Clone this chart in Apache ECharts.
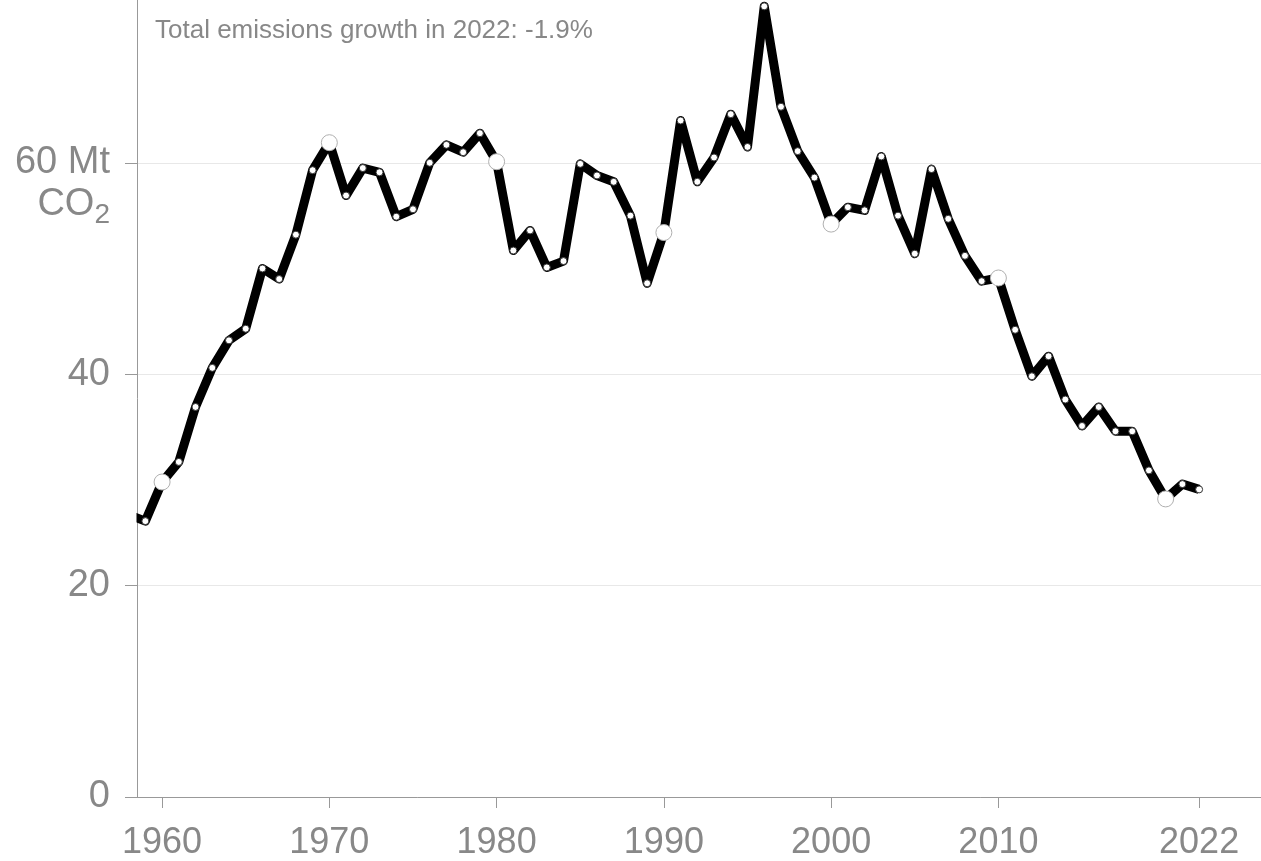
<!DOCTYPE html>
<html>
<head>
<meta charset="utf-8">
<script src="https://cdn.jsdelivr.net/npm/echarts@6/dist/echarts.min.js"></script>
<style>
html,body{margin:0;padding:0;background:#fff;}
#c{width:1261px;height:861px;}
</style>
</head>
<body>
<div id="c"></div>
<script>
const years = [1958,1959,1960,1961,1962,1963,1964,1965,1966,1967,1968,1969,
  1970,1971,1972,1973,1974,1975,1976,1977,1978,1979,
  1980,1981,1982,1983,1984,1985,1986,1987,1988,1989,
  1990,1991,1992,1993,1994,1995,1996,1997,1998,1999,
  2000,2001,2002,2003,2004,2005,2006,2007,2008,2009,
  2010,2011,2012,2013,2014,2015,2016,2017,2018,2019,
  2020,2021,2022];
const emissions = [26.7,26.1,29.8,31.7,36.9,40.6,43.2,44.3,50.0,49.0,53.2,59.3,
  61.9,56.9,59.5,59.1,54.9,55.6,60.0,61.7,61.0,62.8,
  60.1,51.7,53.6,50.1,50.7,59.9,58.8,58.2,55.0,48.6,
  53.4,64.0,58.2,60.5,64.6,61.5,74.8,65.3,61.1,58.6,
  54.2,55.8,55.5,60.6,55.0,51.4,59.4,54.7,51.2,48.8,
  49.1,44.2,39.8,41.7,37.6,35.1,36.9,34.6,34.6,30.9,
  28.2,29.6,29.1];
const highlightYears = [1960,1970,1980,1990,2000,2010,2020];
const xTickLabels = [1960,1970,1980,1990,2000,2010,2022];
const yTickLabels = [0,20,40,60];
const titleText = 'Total emissions growth in 2022: -1.9%';

const grey = '#888888';
const font = '"Liberation Sans", Arial, Helvetica, sans-serif';

const seriesData = years.map((y, i) => {
  const big = highlightYears.indexOf(y) >= 0;
  return {
    value: [y, emissions[i]],
    symbolSize: big ? 16 : 7,
    itemStyle: { color: '#ffffff', borderColor: big ? '#b0b0b0' : '#333333', borderWidth: 1 }
  };
});

const chart = echarts.init(document.getElementById('c'), null, { renderer: 'canvas' });
chart.setOption({
  animation: false,
  backgroundColor: '#ffffff',
  textStyle: { fontFamily: font },
  title: {
    text: titleText,
    left: 155, top: 18, padding: 0,
    textStyle: { fontSize: 26, fontWeight: 'normal', color: grey, fontFamily: font }
  },
  grid: { left: 137, right: 0, top: 0, bottom: 64, containLabel: false },
  xAxis: {
    type: 'value',
    min: 1958.5, max: 2025.7,
    axisLine: { show: true, lineStyle: { color: '#999999', width: 1 } },
    axisTick: { show: true, length: 11, lineStyle: { color: '#999999' }, customValues: xTickLabels },
    axisLabel: { customValues: xTickLabels, fontSize: 36, color: grey, margin: 28, fontFamily: font,
      formatter: v => String(v) },
    splitLine: { show: false }
  },
  yAxis: {
    type: 'value',
    min: 0, max: 75.4, interval: 20,
    axisLine: { show: true, lineStyle: { color: '#999999', width: 1 } },
    axisTick: { show: true, length: 12, lineStyle: { color: '#999999' }, customValues: yTickLabels },
    axisLabel: {
      customValues: yTickLabels,
      margin: 27,
      color: grey,
      fontFamily: font,
      formatter: v => v === 60 ? '{e| }\n{a|60 Mt}\n{b|CO}{s|2}' : '{a|' + v + '}',
      rich: {
        e: { fontSize: 38, lineHeight: 42, align: 'right', color: grey, fontFamily: font },
        a: { fontSize: 38, lineHeight: 42, align: 'right', color: grey, fontFamily: font },
        b: { fontSize: 38, lineHeight: 42, align: 'right', color: grey, fontFamily: font },
        s: { fontSize: 28, lineHeight: 42, align: 'right', color: grey, fontFamily: font, padding: [20, 0, 0, 0] }
      }
    },
    splitLine: { show: true, lineStyle: { color: '#e8e8e8', width: 1 } }
  },
  graphic: [{
    type: 'rect',
    shape: { x: 0, y: 470, width: 136.5, height: 90 },
    style: { fill: '#ffffff' },
    z: 100,
    silent: true
  }],
  series: [{
    type: 'line',
    data: seriesData,
    clip: true,
    symbol: 'circle',
    showAllSymbol: true,
    lineStyle: { color: '#000000', width: 9, join: 'round', cap: 'butt' },
    emphasis: { disabled: true },
    silent: true,
    z: 3
  }]
});
</script>
</body>
</html>
